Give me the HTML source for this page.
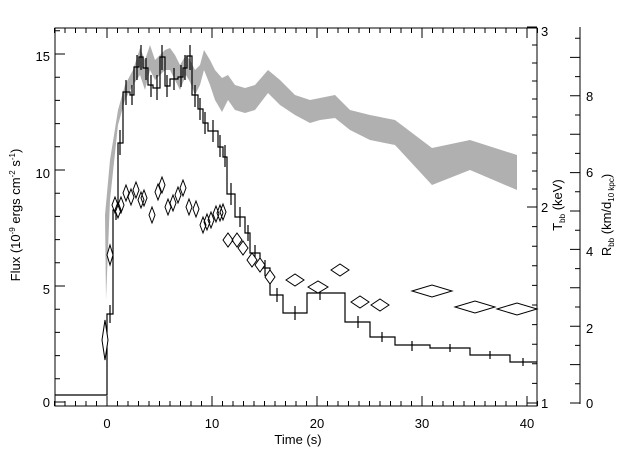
<!DOCTYPE html>
<html><head><style>body{margin:0;background:#fff}svg{display:block}text{font-family:"Liberation Sans",sans-serif;font-size:13px;fill:#000}</style></head><body>
<svg width="640" height="457" viewBox="0 0 640 457" xmlns="http://www.w3.org/2000/svg">
<rect width="640" height="457" fill="#fff"/>
<polygon fill="#b0b0b0" points="105,215 110,160 118,110 125,85 133,70 140,48 145,60 150,45 155,60 160,55 165,50 170,48 175,55 180,65 186,55 190,60 195,70 200,65 204,50 210,60 215,70 222,78 228,75 235,85 245,88 255,85 268,70 280,80 295,95 310,100 320,98 335,95 350,110 370,115 395,120 432,148 470,140 517,155 517,190 470,170 432,185 395,145 370,140 350,130 335,118 320,120 310,123 295,115 280,105 268,93 255,110 245,113 235,110 228,100 222,112 215,100 210,85 204,70 200,85 195,95 190,82 186,75 180,90 175,80 170,70 165,70 160,75 155,80 150,70 145,90 140,75 133,85 125,100 118,125 110,200 106,300"/>
<g fill="none" stroke="#000" stroke-width="1.2">
<polyline points="55,395 107,395 107,314 113,314 113,210 118,210 118,143 123,143 123,92 130,92 130,95 134,95 134,67 139,67 139,57 143,57 143,68 148,68 148,85 153,85 153,88 160,88 160,57 165,57 165,86 170,86 170,79 178,79 178,77 183,77 183,68 187,68 187,56 192,56 192,95 198,95 198,109 203,109 203,123 208,123 208,131 218,131 218,147 223,147 223,157 227,157 227,194 235,194 235,217 245,217 245,233 250,233 250,253 260,253 260,268 270,268 270,295 283,295 283,313 307,313 307,293 345,293 345,322 370,322 370,337 395,337 395,345 430,345 430,348 470,348 470,355 510,355 510,362 537,362"/>
<path d="M110,305v18M116,200v20M120,130v25M126,80v25M132,85v20M137,55v25M141,45v25M146,58v22M151,75v22M157,75v25M162,45v25M167,75v22M174,68v22M181,65v22M185,55v25M190,45v25M195,85v22M200,98v22M205,112v22M213,120v22M220,135v22M225,145v22M231,183v22M240,207v20M248,225v16M255,245v16M265,260v16M277,288v14M295,306v14M320,286v14M358,316v12M382,332v10M412,341v10M450,344v8M490,351v8M523,358v8"/>
</g>
<g fill="#fff" stroke="#000" stroke-width="1">
<path d="M105,320l3,20-3,20-3,-20z"/><path d="M110,245l3,10-3,10-3,-10z"/>
<path d="M115,197l3,8-3,8-3,-8zM118,202l3,8-3,8-3,-8zM121,197l3,8-3,8-3,-8zM126,185l3,8-3,8-3,-8zM131,189l3,8-3,8-3,-8zM136,182l3,8-3,8-3,-8zM141,192l3,8-3,8-3,-8zM144,190l3,8-3,8-3,-8zM152,207l3,8-3,8-3,-8zM158,184l3,8-3,8-3,-8zM162,177l3,8-3,8-3,-8zM168,199l3,8-3,8-3,-8zM173,195l3,8-3,8-3,-8zM178,187l3,8-3,8-3,-8zM183,180l3,8-3,8-3,-8zM189,199l3,8-3,8-3,-8zM196,201l3,8-3,8-3,-8zM203,217l3,8-3,8-3,-8zM207,214l3,8-3,8-3,-8zM211,212l3,8-3,8-3,-8zM216,206l3,8-3,8-3,-8zM220,205l3,8-3,8-3,-8zM223,204l3,8-3,8-3,-8z"/>
<path d="M228,233l5,7-5,7-5,-7zM237,233l5,7-5,7-5,-7zM243,241l5,7-5,7-5,-7zM252,253l5,7-5,7-5,-7zM260,258l5,7-5,7-5,-7zM270,270l5,7-5,7-5,-7z"/>
<path d="M286,280l9,-6 9,6-9,6zM308,287l10,-6 10,6-10,6zM331,270l9,-6 9,6-9,6zM351,302l9,-6 9,6-9,6zM371,305l9,-6 9,6-9,6zM412,291l20,-6 20,6-20,6zM455,307l20,-6 20,6-20,6zM497,309l20,-6 20,6-20,6z"/>
</g>
<g stroke="#000" stroke-width="1" fill="none">
<rect x="55" y="28" width="482" height="378"/>
<line x1="580" y1="27" x2="580" y2="404"/>
</g>
<g id="tk" stroke="#000" stroke-width="1"></g>
<g>
<text x="107" y="428" text-anchor="middle">0</text><text x="212" y="428" text-anchor="middle">10</text><text x="317" y="428" text-anchor="middle">20</text><text x="422" y="428" text-anchor="middle">30</text><text x="527" y="428" text-anchor="middle">40</text>
<text x="298" y="444" text-anchor="middle">Time (s)</text>
<text x="50" y="407" text-anchor="end">0</text><text x="50" y="294" text-anchor="end">5</text><text x="50" y="178" text-anchor="end">10</text><text x="50" y="61" text-anchor="end">15</text>
<text x="541" y="408">1</text><text x="541" y="212">2</text><text x="541" y="36">3</text>
<text x="586" y="408">0</text><text x="586" y="333">2</text><text x="586" y="256">4</text><text x="586" y="177">6</text><text x="586" y="101">8</text>
<text transform="translate(20,215) rotate(-90)" text-anchor="middle">Flux (10<tspan font-size="8" dy="-5">-9</tspan><tspan dy="5"> ergs cm</tspan><tspan font-size="8" dy="-5">-2</tspan><tspan dy="5"> s</tspan><tspan font-size="8" dy="-5">-1</tspan><tspan dy="5">)</tspan></text>
<text transform="translate(562,205) rotate(-90)" text-anchor="middle">T<tspan font-size="8" dy="3">bb</tspan><tspan dy="-3"> (keV)</tspan></text>
<text transform="translate(611,215) rotate(-90)" text-anchor="middle">R<tspan font-size="8" dy="3">bb</tspan><tspan dy="-3"> (km/d</tspan><tspan font-size="8" dy="3">10 kpc</tspan><tspan dy="-3">)</tspan></text>
</g>
<script>
var g=document.getElementById('tk'),d='';
for(var t=-5;t<=41;t++){var x=107+t*10.5;var L=(t%10==0)?10:5;d+='M'+x+',406v-'+L+'M'+x+',28v'+L;}
for(var f=0;f<=16;f++){var y=402-f*23.2;var L=(f%5==0)?10:5;d+='M55,'+y+'h'+L;}
for(var i=0;i<=20;i++){var y=i<=10?403-i*19.6:207-(i-10)*18;var L=(i%10==0)?10:5;d+='M537,'+y+'h-'+L;}
for(var i=0;i<=19;i++){var y=403-i*19.2;var L=(i%2==0)?10:5;d+='M580,'+y+'h-'+L;}
var p=document.createElementNS('http://www.w3.org/2000/svg','path');p.setAttribute('d',d);p.setAttribute('fill','none');g.appendChild(p);
</script>
</svg>
</body></html>
